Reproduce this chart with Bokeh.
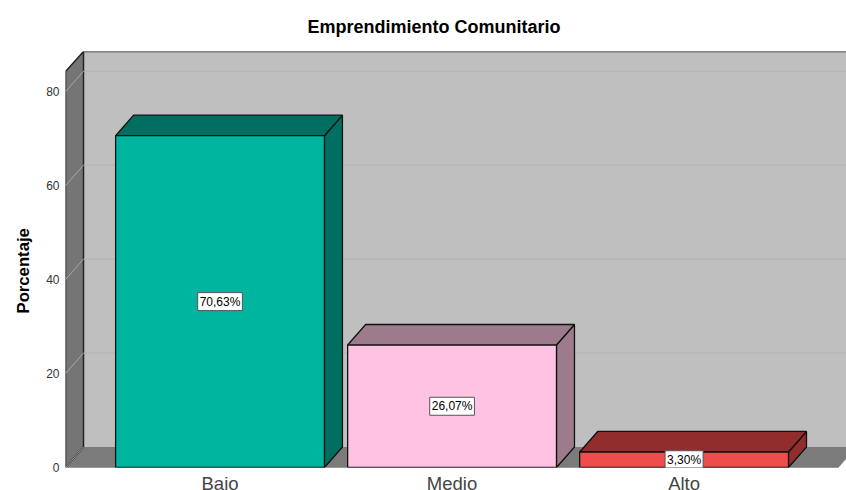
from bokeh.plotting import figure
from bokeh.models import Range1d, FixedTicker, ColumnDataSource, Title
from bokeh.core.properties import value
from bokeh.embed import file_html
from bokeh.resources import INLINE

categories = ["Bajo", "Medio", "Alto"]
values = [70.63, 26.07, 3.30]
labels = ["70,63%", "26,07%", "3,30%"]
y_ticks = [0, 20, 40, 60, 80]
front_colors = ["#00b5a0", "#ffc2e2", "#ef4c4e"]
top_colors = ["#006f61", "#9d7a8c", "#922d2d"]
side_colors = ["#006f61", "#9d7a8c", "#922d2d"]

# scene geometry in data units
DX, DY = 18 / 232, 20.5 / 4.69
BAR_W = 0.9
X0, X1 = -0.666, 2.666
YMAX = 84.3
YTOP = 88.56

p = figure(width=846, height=490, frame_width=781, frame_height=416,
           min_border_left=65, min_border_top=51, min_border_right=0, min_border_bottom=23,
           x_range=Range1d(X0, 2.70), y_range=Range1d(0, YTOP),
           output_backend="svg", toolbar_location=None, outline_line_color=None,
           background_fill_color="white", border_fill_color="white")
p.grid.visible = False

p.title = Title(text="Emprendimiento Comunitario", align="left", offset=242,
                text_font="Liberation Sans", text_font_size="18px", text_font_style="bold",
                text_color="#000000", standoff=29)

# walls
stroke = "#222222"
p.patch([X0 + DX, X1 + DX + 1, X1 + DX + 1, X0 + DX], [DY, DY, YTOP, YTOP],
        fill_color="#bfbfbf", line_color=None)
p.line([X0 + DX, X1 + DX + 1], [YTOP, YTOP], line_color=stroke, line_width=1.5)
p.patch([X0, X1, X1 + DX, X0 + DX], [0, 0, DY, DY], fill_color="#7b7b7b", line_color=None)
p.patch([X0, X0 + DX, X0 + DX, X0], [0, DY, YTOP, YMAX],
        fill_color="#757575", line_color=stroke, line_width=1.5)
p.line([X0, X1], [0, 0], line_color="#555555", line_width=1)

# grid lines: slanted on the left wall, level on the back wall
for t in y_ticks:
    p.line([X0, X0 + DX], [t, t + DY], line_color="#a6a6a6", line_width=1)
    if t > 0:
        p.line([X0 + DX, X1 + DX + 1], [t + DY, t + DY], line_color="#b2b2b2", line_width=1)

# bars
for i, v in enumerate(values):
    l, r = i - BAR_W / 2, i + BAR_W / 2
    p.patch([r, r + DX, r + DX, r], [0, DY, v + DY, v], fill_color=side_colors[i],
            line_color="#111111", line_width=1.3)
    p.patch([l, r, r + DX, l + DX], [v, v, v + DY, v + DY], fill_color=top_colors[i],
            line_color="#111111", line_width=1.3)
    p.patch([l, r, r, l], [0, 0, v, v], fill_color=front_colors[i],
            line_color="#111111", line_width=1.3)

src = ColumnDataSource(dict(x=list(range(3)), y=[v / 2 for v in values], t=labels))
p.text(x="x", y="y", text="t", source=src, text_align="center", text_baseline="middle",
       text_font=value("Liberation Sans"), text_font_size="12px", text_color="#000000",
       background_fill_color="white", border_line_color="#555555", border_line_width=1,
       padding=2)

# axes
ya = p.yaxis[0]
ya.ticker = FixedTicker(ticks=y_ticks)
ya.axis_line_color = None
ya.major_tick_line_color = None
ya.minor_tick_line_color = None
ya.major_label_text_font = "Liberation Sans"
ya.major_label_text_font_size = "12px"
ya.major_label_text_color = "#333333"
ya.major_label_standoff = 0

p.add_layout(Title(text="Porcentaje", align="left", offset=154,
                   text_font="Liberation Sans", text_font_size="16.7px", text_font_style="bold",
                   text_color="#000000", standoff=22), "left")

xa = p.xaxis[0]
xa.ticker = FixedTicker(ticks=[0, 1, 2])
xa.major_label_overrides = {i: c for i, c in enumerate(categories)}
xa.axis_line_color = None
xa.major_tick_line_color = None
xa.minor_tick_line_color = None
xa.major_label_text_font = "Liberation Sans"
xa.major_label_text_font_size = "18.5px"
xa.major_label_text_color = "#444444"
xa.major_label_standoff = -1

open("out.html", "w").write(file_html(p, INLINE))
